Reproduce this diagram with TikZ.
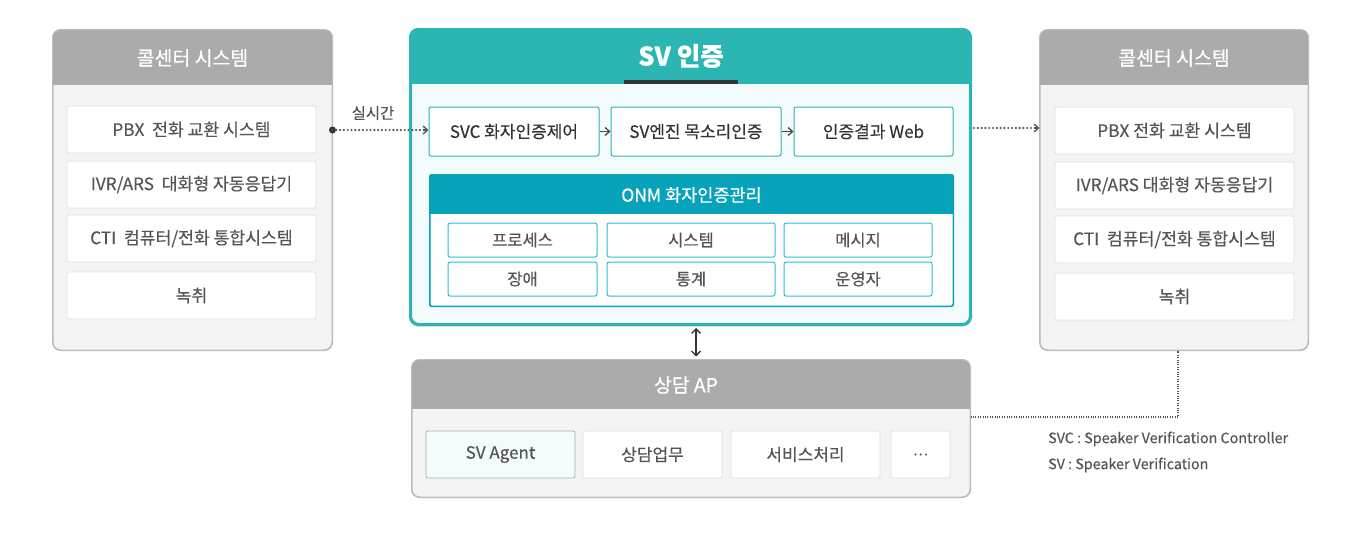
\documentclass[tikz,border=0pt]{standalone}
\usepackage{fontspec}
\setmainfont{Noto Sans CJK KR}[FakeBold=0.25]
\newfontfamily\medfont{Noto Sans CJK KR}[FakeBold=0.7]
\usetikzlibrary{arrows.meta,shadows,calc}
\definecolor{grayhead}{HTML}{ABABAB}
\definecolor{panelbg}{HTML}{F4F4F4}
\definecolor{panelborder}{HTML}{BDBDBD}
\definecolor{innerborder}{HTML}{E0E0E0}
\definecolor{textgray}{HTML}{555555}
\definecolor{tealc}{HTML}{2BB6B4}
\definecolor{lightbg}{HTML}{F3FBFD}
\definecolor{onmc}{HTML}{06A3BB}
\definecolor{subborder}{HTML}{2ABCD8}
\definecolor{darkc}{HTML}{333333}
\tikzset{
  panel/.style={draw=panelborder, fill=panelbg, line width=1pt, rounded corners=8pt, inner sep=0pt},
  cpanel/.style={draw=tealc, fill=lightbg, line width=2pt, rounded corners=8pt, inner sep=0pt,
     drop shadow={opacity=0.18, shadow xshift=0pt, shadow yshift=-3pt}},
  ibox/.style={draw=innerborder, fill=white, line width=0.8pt, rounded corners=2pt, inner sep=0pt,
     text=textgray, font=\fontsize{17.2}{19}\selectfont},
  tbox/.style={draw=tealc, fill=white, line width=1pt, rounded corners=2pt, inner sep=0pt,
     text=darkc, font=\fontsize{17}{19}\selectfont},
  sbox/.style={draw=subborder, fill=white, line width=1pt, rounded corners=2pt, inner sep=0pt,
     text=textgray, font=\fontsize{16.5}{18}\selectfont},
  abox/.style={draw=innerborder, fill=white, line width=0.8pt, rounded corners=2pt, inner sep=0pt,
     text=textgray, font=\fontsize{17}{19}\selectfont},
  htext/.style={text=white, font=\fontsize{19.4}{21}\medfont},
  dotline/.style={draw=textgray, line width=2.4pt, dash pattern=on 0pt off 3.8pt, line cap=round},
  barb/.style={-{Straight Barb[length=4.5pt,width=8pt,line width=1.3pt]}},
  legend/.style={text=textgray, font=\fontsize{14.3}{16}\selectfont, anchor=west, inner sep=0pt},
}
\begin{document}
\begin{tikzpicture}[x=1pt,y=-1pt]
\useasboundingbox[fill=white] (0,0) rectangle (1360,536);

% ---------- left panel ----------
\node[panel, minimum width=279, minimum height=320] (lp) at (192.5,190) {};
\begin{scope}
\clip[rounded corners=8pt] (lp.north west) rectangle (lp.south east);
\fill[grayhead] (lp.north west) rectangle ($(lp.north east)+(0,55)$);
\end{scope}
\draw[panelborder, line width=1pt, rounded corners=8pt] (lp.north west) rectangle (lp.south east);
\node[htext] (lpt) at (192.5,58) {콜센터 시스템};
\node[ibox, minimum width=249, minimum height=47] (l1) at (191.5,129.5) {PBX\ \ 전화 교환 시스템};
\node[ibox, minimum width=249, minimum height=47] (l2) at (191.5,184.5) {IVR/ARS\ \ 대화형 자동응답기};
\node[ibox, minimum width=249, minimum height=47] (l3) at (191.5,238.5) {CTI\ \ 컴퓨터/전화 통합시스템};
\node[ibox, minimum width=249, minimum height=47] (l4) at (191.5,295.5) {녹취};

% ---------- right panel ----------
\node[panel, minimum width=268, minimum height=320] (rp) at (1174,190) {};
\begin{scope}
\clip[rounded corners=8pt] (rp.north west) rectangle (rp.south east);
\fill[grayhead] (rp.north west) rectangle ($(rp.north east)+(0,55)$);
\end{scope}
\draw[panelborder, line width=1pt, rounded corners=8pt] (rp.north west) rectangle (rp.south east);
\node[htext] (rpt) at (1174,58) {콜센터 시스템};
\node[ibox, minimum width=239, minimum height=47] (r1) at (1174.5,130.5) {PBX 전화 교환 시스템};
\node[ibox, minimum width=239, minimum height=47] (r2) at (1174.5,185.5) {IVR/ARS 대화형 자동응답기};
\node[ibox, minimum width=239, minimum height=47] (r3) at (1174.5,239.5) {CTI\ \ 컴퓨터/전화 통합시스템};
\node[ibox, minimum width=239, minimum height=47] (r4) at (1174.5,296.5) {녹취};

% ---------- center panel ----------
\node[cpanel, minimum width=559, minimum height=294] (cp) at (690.5,177) {};
\begin{scope}
\clip[rounded corners=8pt] (cp.north west) rectangle (cp.south east);
\fill[tealc] (cp.north west) rectangle ($(cp.north east)+(0,55)$);
\end{scope}
\draw[tealc, line width=2pt, rounded corners=8pt] (cp.north west) rectangle (cp.south east);
\node[text=white, font=\fontsize{25.5}{27}\selectfont\bfseries] (cpt) at (681,56) {SV 인증};
\fill[darkc] (624,80) rectangle (738,84);

\node[tbox, minimum width=170, minimum height=49] (svc) at (514,131.5) {SVC 화자인증제어};
\node[tbox, minimum width=170, minimum height=49] (sve) at (696,131.5) {SV엔진 목소리인증};
\node[tbox, minimum width=159, minimum height=49] (web) at (873.5,131.5) {인증결과 Web};
\draw[barb, darkc!90, line width=1.3pt] (svc.east) -- (sve.west);
\draw[barb, darkc!90, line width=1.3pt] (sve.east) -- (web.west);

% ONM
\node[draw=onmc, fill=white, line width=1pt, rounded corners=2pt, minimum width=523, minimum height=131, inner sep=0pt] (onm) at (691.5,240.5) {};
\begin{scope}
\clip[rounded corners=2pt] (onm.north west) rectangle (onm.south east);
\fill[onmc] (onm.north west) rectangle ($(onm.north east)+(0,39)$);
\end{scope}
\draw[onmc, line width=1pt, rounded corners=2pt] (onm.north west) rectangle (onm.south east);
\node[text=white, font=\fontsize{17.5}{19}\medfont] (onmt) at (691.5,195) {ONM 화자인증관리};
\node[sbox, minimum width=149, minimum height=34] (s1) at (522.5,240) {프로세스};
\node[sbox, minimum width=168, minimum height=34] (s2) at (691,240) {시스템};
\node[sbox, minimum width=148, minimum height=34] (s3) at (858,240) {메시지};
\node[sbox, minimum width=149, minimum height=34] (s4) at (522.5,279) {장애};
\node[sbox, minimum width=168, minimum height=34] (s5) at (691,279) {통계};
\node[sbox, minimum width=148, minimum height=34] (s6) at (858,279) {운영자};

% ---------- bottom panel ----------
\node[panel, minimum width=558, minimum height=137] (ap) at (691,428.5) {};
\begin{scope}
\clip[rounded corners=8pt] (ap.north west) rectangle (ap.south east);
\fill[grayhead] (ap.north west) rectangle ($(ap.north east)+(0,49)$);
\end{scope}
\draw[panelborder, line width=1pt, rounded corners=8pt] (ap.north west) rectangle (ap.south east);
\node[text=white, font=\fontsize{19.3}{21}\medfont] (apt) at (686,385) {상담 AP};
\node[abox, draw=grayhead, fill=lightbg, minimum width=149, minimum height=47] (a1) at (500.5,454.5) {SV Agent};
\node[abox, minimum width=139, minimum height=47] (a2) at (652.5,454.5) {상담업무};
\node[abox, minimum width=149, minimum height=47] (a3) at (805.5,454.5) {서비스처리};
\node[abox, minimum width=59, minimum height=47, font=\fontsize{14}{16}\medfont] (a4) at (920.5,454.5) {…};

% ---------- connectors ----------
\coordinate (ldot) at (lp.east |- 0,130);
\fill[darkc] (ldot) circle (3.5pt);
\draw[dotline] (ldot) -- ($(svc.west |- ldot)+(-3,0)$);
\draw[barb, textgray, line width=1.4pt] ($(svc.west |- ldot)+(-6,0)$) -- (svc.west |- ldot);
\node[text=textgray, font=\fontsize{15.4}{17}\selectfont] (rt) at (373,113) {실시간};

\coordinate (rs) at (cp.east |- 0,128);
\draw[dotline] ($(rs)+(3,0)$) -- ($(rp.west |- rs)+(-3,0)$);
\draw[barb, textgray, line width=1.4pt] ($(rp.west |- rs)+(-6,0)$) -- (rp.west |- rs);

\draw[{Straight Barb[length=4.5pt,width=9pt,line width=1.3pt]}-{Straight Barb[length=4.5pt,width=9pt,line width=1.3pt]}, darkc, line width=1.6pt]
  ($(cp.south -| 0,0)+(696,3)$) -- ($(ap.north -| 0,0)+(696,-3)$);

\coordinate (j) at (1178,417);
\draw[textgray, line width=1.3pt, dash pattern=on 1pt off 1.4pt] (ap.east |- j) -- (j) -- (j |- rp.south);

% ---------- legend ----------
\node[legend] (lg1) at (1048,439) {SVC : Speaker Verification Controller};
\node[legend] (lg2) at (1048,465) {SV : Speaker Verification};
\end{tikzpicture}
\end{document}
